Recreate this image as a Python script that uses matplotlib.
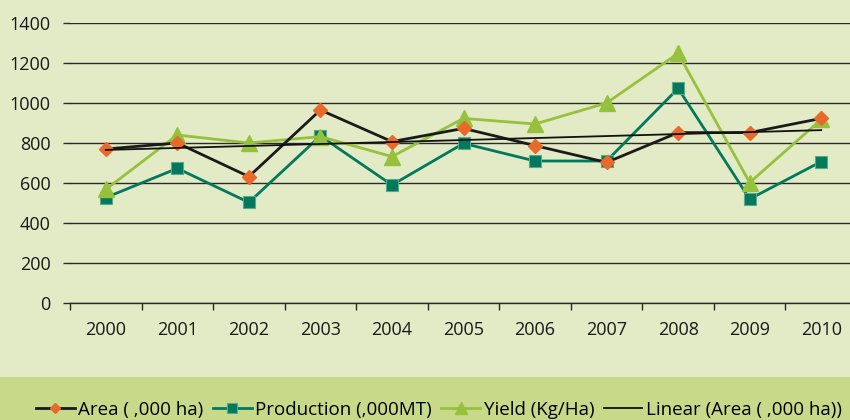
import numpy as np
import matplotlib
matplotlib.use("Agg")
import matplotlib.pyplot as plt
from matplotlib.patches import Rectangle

years = ["2000", "2001", "2002", "2003", "2004", "2005", "2006", "2007", "2008", "2009", "2010"]
area = [770, 800, 632, 965, 807, 873, 787, 703, 852, 852, 923]
production = [527, 673, 503, 835, 590, 798, 710, 710, 1073, 520, 707]
yield_ = [568, 840, 800, 832, 732, 923, 895, 1000, 1248, 602, 918]
yticks = [0, 200, 400, 600, 800, 1000, 1200, 1400]

plt.rcParams['font.family'] = ['Open Sans', 'DejaVu Sans']

BG = "#e3eac6"
BAND = "#c8d98a"
ORANGE = "#e8692a"
TEAL = "#00795c"
LIME = "#95c13d"

fig = plt.figure(figsize=(8.5, 4.2), dpi=100, facecolor=BG)
fig.patches.append(Rectangle((0, 0), 1, 43 / 420, transform=fig.transFigure,
                             facecolor=BAND, edgecolor="none", zorder=0))

ax = fig.add_axes([70 / 850, 117 / 420, 787 / 850, 280 / 420])
ax.set_facecolor(BG)
x = np.arange(len(years))

ax.plot(x, area, color="#1a1a1a", lw=2.0, marker="D", ms=7, mfc=ORANGE, mec=ORANGE,
        label="Area ( ,000 ha)", zorder=4)
ax.plot(x, production, color=TEAL, lw=2.0, marker="s", ms=9, mfc=TEAL, mec="#5aa88a",
        mew=0.8, label="Production (,000MT)", zorder=3)
ax.plot(x, yield_, color=LIME, lw=2.0, marker="^", ms=11, mfc=LIME, mec=LIME,
        label="Yield (Kg/Ha)", zorder=3)
coef = np.polyfit(x, area, 1)
ax.plot(x, np.polyval(coef, x), color="#111111", lw=1.3,
        label="Linear (Area ( ,000 ha))", zorder=5)

ax.set_xlim(-0.5, len(years) - 0.5)
ax.set_ylim(0, 1400)
ax.set_yticks(yticks)
ax.set_yticklabels([str(v) for v in yticks])
ax.yaxis.grid(True, color="#2a2a2a", lw=1.0)
ax.set_axisbelow(True)
ax.set_xticks(x)
ax.set_xticklabels(years)
ax.set_xticks(np.arange(-0.5, len(years), 1), minor=True)
ax.tick_params(axis="x", which="major", length=0, pad=13, labelsize=13, colors="#1a1a1a")
ax.tick_params(axis="x", which="minor", length=5, width=1, color="#2a2a2a", direction="out")
ax.tick_params(axis="y", length=5, width=1, color="#2a2a2a", pad=9, labelsize=13, labelcolor="#1a1a1a")
for s in ["top", "right", "left"]:
    ax.spines[s].set_visible(False)
ax.spines["bottom"].set_color("#2a2a2a")
ax.spines["bottom"].set_linewidth(1.0)

handles, labels = ax.get_legend_handles_labels()
fig.legend(handles, labels, loc="center", bbox_to_anchor=(439 / 850, 10 / 420),
           ncol=4, frameon=False, fontsize=13.5, handlelength=2.05, handletextpad=0.2,
           columnspacing=0.5, markerscale=0.75, borderpad=0, borderaxespad=0)

fig.savefig("out.png", dpi=100, facecolor=BG)
